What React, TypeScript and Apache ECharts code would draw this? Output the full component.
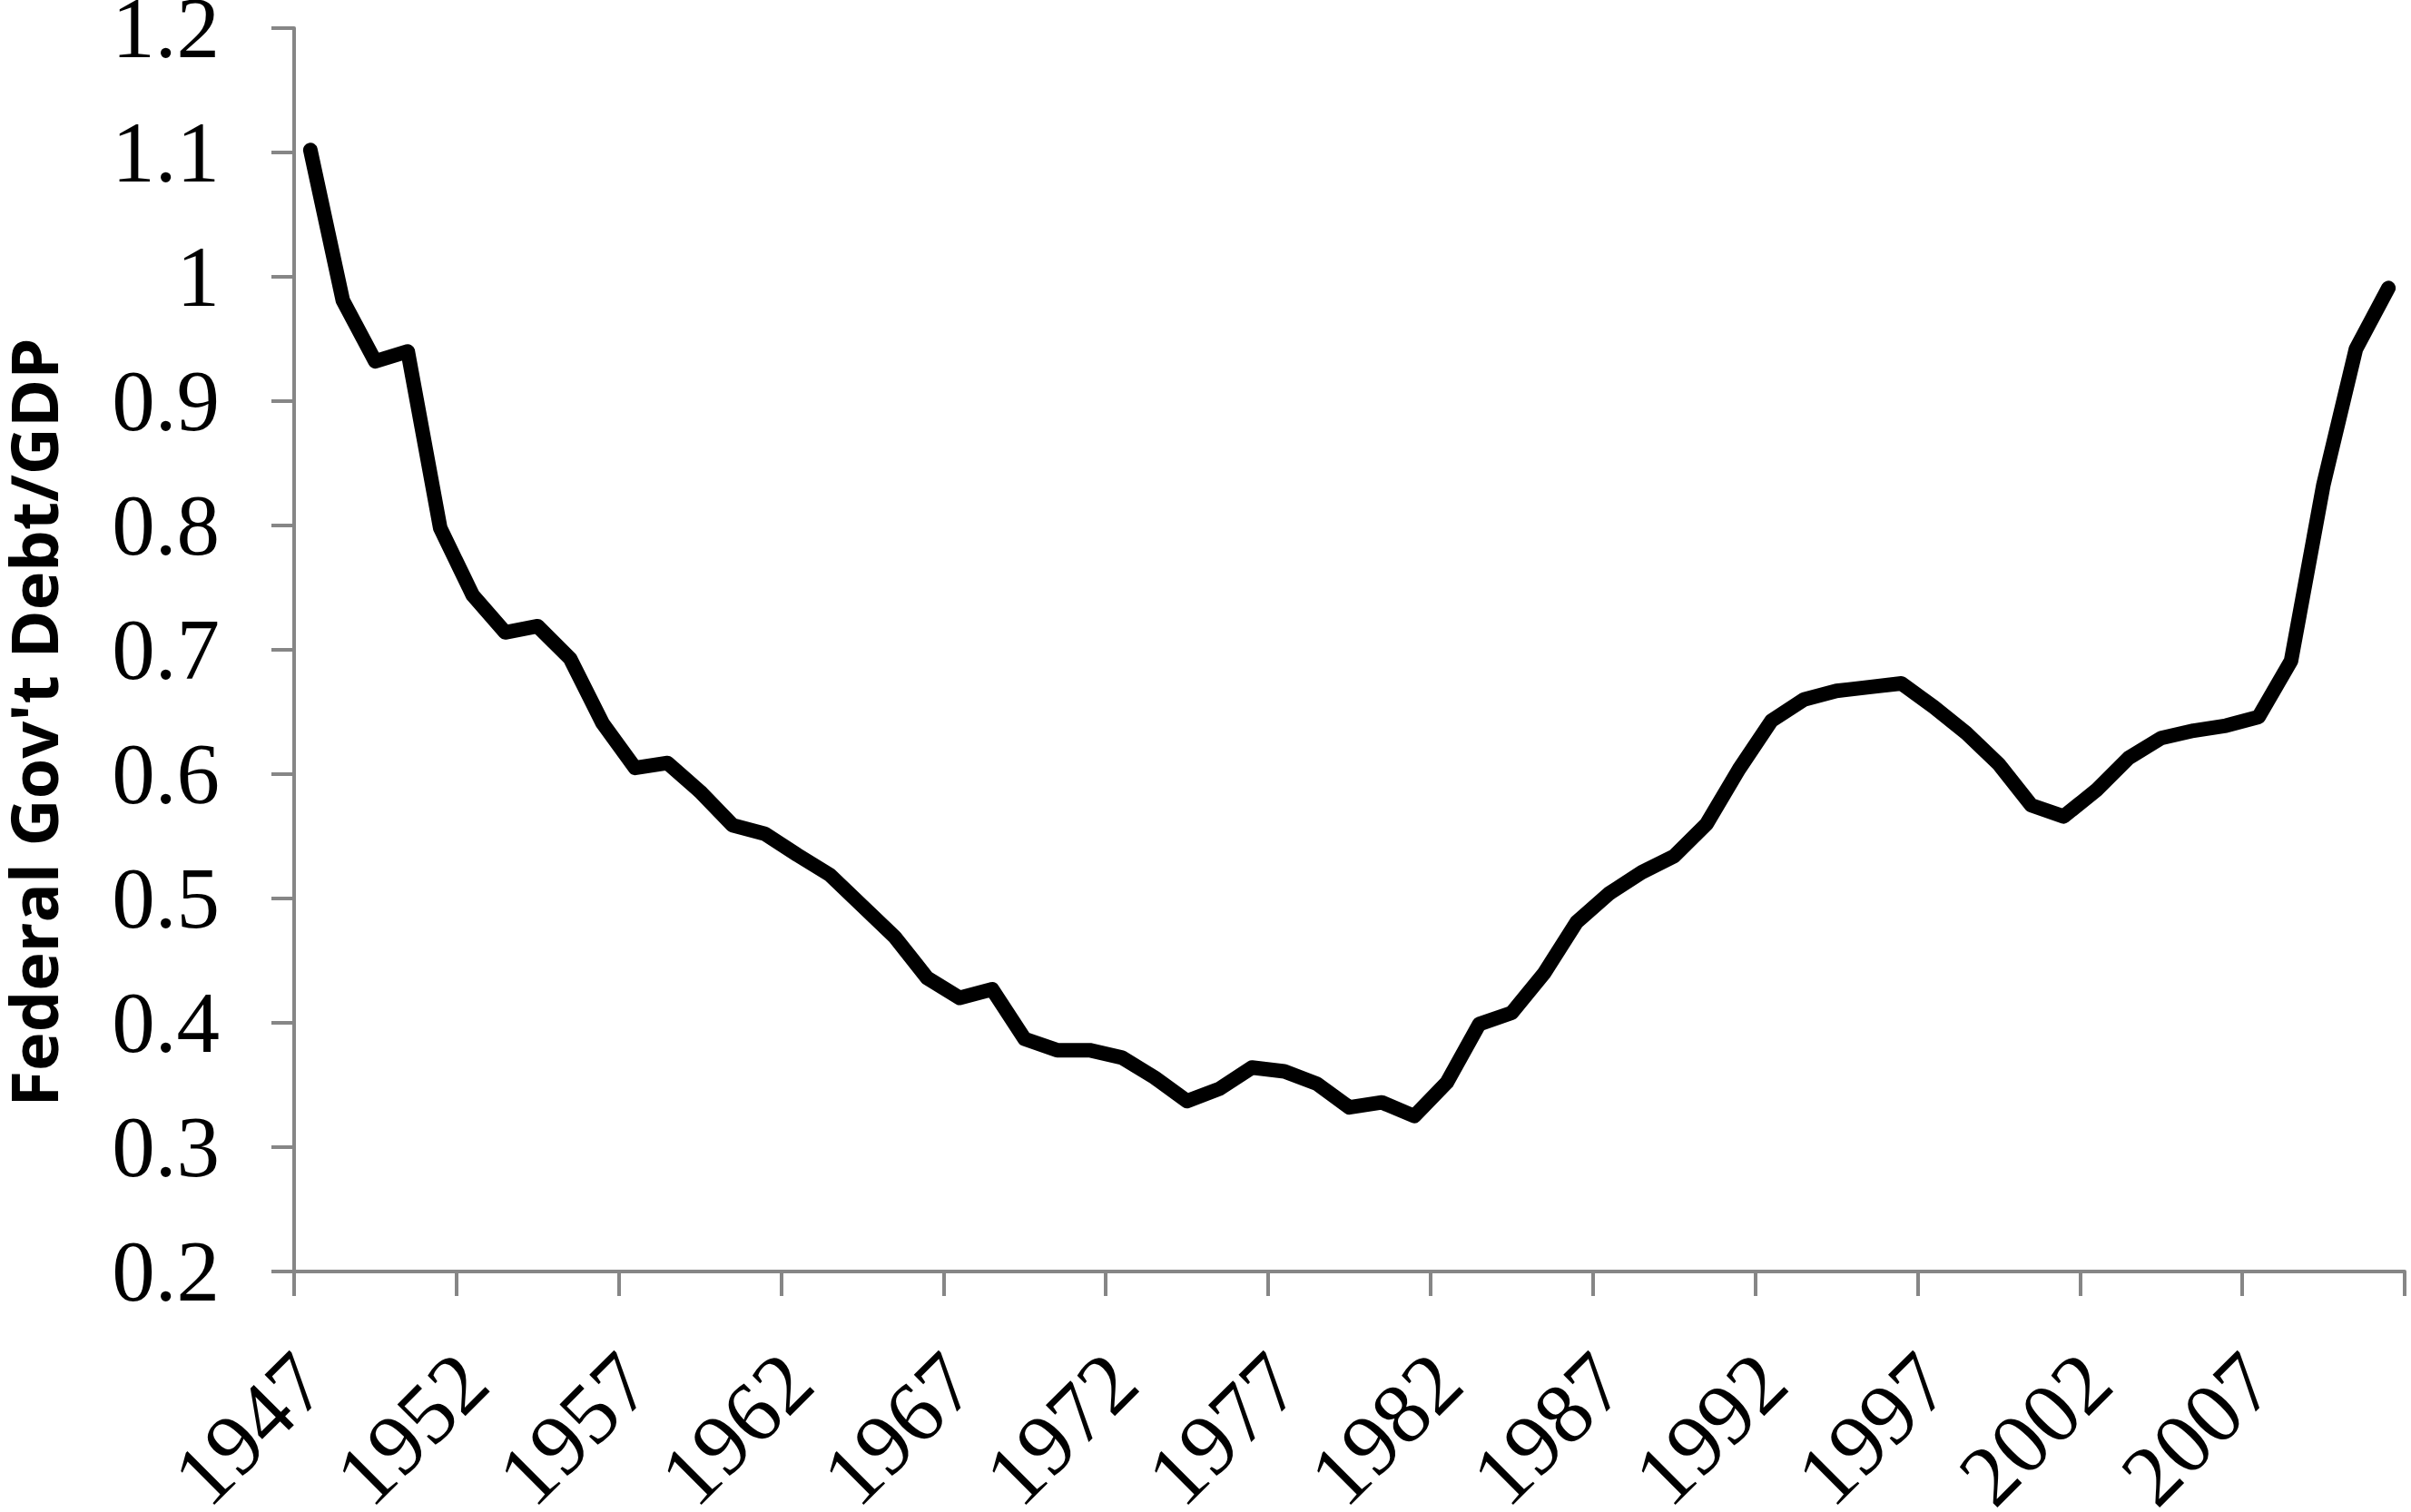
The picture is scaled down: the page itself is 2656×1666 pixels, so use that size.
import React, { useEffect, useRef } from "react";
import * as echarts from "echarts";

const years: string[] = [
  "1947","1948","1949","1950","1951","1952","1953","1954","1955","1956",
  "1957","1958","1959","1960","1961","1962","1963","1964","1965","1966",
  "1967","1968","1969","1970","1971","1972","1973","1974","1975","1976",
  "1977","1978","1979","1980","1981","1982","1983","1984","1985","1986",
  "1987","1988","1989","1990","1991","1992","1993","1994","1995","1996",
  "1997","1998","1999","2000","2001","2002","2003","2004","2005","2006",
  "2007","2008","2009","2010","2011",
];

const debtToGdp: number[] = [
  1.102, 0.981, 0.932, 0.94, 0.798, 0.744, 0.714, 0.719, 0.693, 0.641,
  0.605, 0.609, 0.586, 0.559, 0.552, 0.535, 0.519, 0.494, 0.469, 0.436,
  0.42, 0.427, 0.387, 0.378, 0.378, 0.372, 0.356, 0.337, 0.347, 0.364,
  0.361, 0.351, 0.332, 0.336, 0.325, 0.352, 0.399, 0.408, 0.44, 0.481,
  0.504, 0.521, 0.534, 0.56, 0.604, 0.643, 0.66, 0.667, 0.67, 0.673,
  0.654, 0.633, 0.608, 0.575, 0.566, 0.587, 0.613, 0.629, 0.635, 0.639,
  0.646, 0.691, 0.833, 0.942, 0.991,
];

const yAxisTitle = "Federal Gov't Debt/GDP";

export default function App() {
  const ref = useRef<HTMLDivElement>(null);
  useEffect(() => {
    if (!ref.current) return;
    const chart = echarts.init(ref.current, null, { renderer: "svg" });
    const axisGray = "#868686";
    chart.setOption({
      animation: false,
      backgroundColor: "#ffffff",
      grid: {
        left: 324,
        right: 7,
        top: 31,
        bottom: 265,
        containLabel: false,
        outerBoundsMode: "none",
      },
      xAxis: {
        type: "category",
        data: years,
        boundaryGap: true,
        axisLine: { show: true, lineStyle: { color: axisGray, width: 4 } },
        axisTick: { show: true, interval: 4, length: 27, lineStyle: { color: axisGray, width: 4 } },
        axisLabel: {
          interval: 4,
          rotate: 45,
          margin: 106,
          color: "#000",
          fontFamily: "Liberation Serif",
          fontSize: 95,
          lineHeight: 60,
        },
        splitLine: { show: false },
      },
      yAxis: {
        type: "value",
        min: 0.2,
        max: 1.2,
        interval: 0.1,
        axisLine: { show: true, lineStyle: { color: axisGray, width: 4 } },
        axisTick: { show: true, length: 25, lineStyle: { color: axisGray, width: 4 } },
        axisLabel: {
          margin: 82,
          color: "#000",
          fontFamily: "Liberation Serif",
          fontSize: 95,
          lineHeight: 60,
          formatter: (v: number) => String(Math.round(v * 10) / 10),
        },
        splitLine: { show: false },
      },
      graphic: [
        {
          type: "text",
          x: 36,
          y: 796,
          rotation: Math.PI / 2,
          style: {
            text: yAxisTitle,
            fontFamily: "Open Sans",
            fontWeight: "bold",
            fontSize: 72,
            lineHeight: 56,
            fill: "#000",
            align: "center",
            verticalAlign: "middle",
          },
        },
      ],
      series: [
        {
          type: "line",
          data: debtToGdp,
          symbol: "none",
          lineStyle: { color: "#000", width: 16, cap: "round", join: "round" },
        },
      ],
    });
    return () => chart.dispose();
  }, []);
  return (
    <div
      ref={ref}
      style={{ position: "absolute", left: 0, top: 0, width: 2656, height: 1666, background: "#fff" }}
    />
  );
}
